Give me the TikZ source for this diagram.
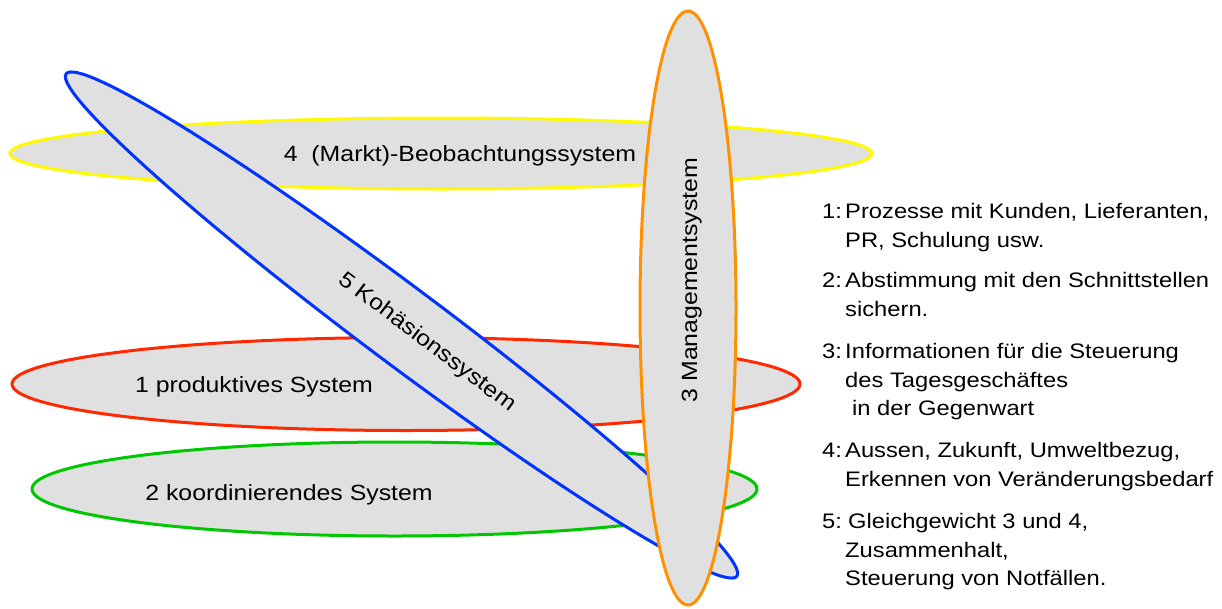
\documentclass[tikz,border=0pt]{standalone}
\usepackage{fontspec}
\setmainfont[FakeStretch=1.13]{Liberation Sans}
\usetikzlibrary{shapes.geometric}
\definecolor{cYellow}{RGB}{255,250,0}
\definecolor{cRed}{RGB}{255,40,0}
\definecolor{cGreen}{RGB}{0,200,0}
\definecolor{cBlue}{RGB}{0,51,255}
\definecolor{cOrange}{RGB}{255,145,0}
\definecolor{cFill}{RGB}{224,224,224}
\begin{document}
\begin{tikzpicture}[x=1pt,y=-1pt,
  sys/.style={ellipse, fill=cFill, line width=3pt, inner sep=0pt, outer sep=0pt},
  lab/.style={anchor=base, inner sep=0pt, font=\fontsize{22}{26}\selectfont},
  note/.style={anchor=base west, inner sep=0pt, font=\fontsize{21}{28}\selectfont}]
\useasboundingbox (0,0) rectangle (1222,608);
% 4 yellow
\node[sys, draw=cYellow, minimum width=862pt, minimum height=71pt] (s4) at (441,153.5) {};
\node[lab] (l4) at (460,161.5) {4\ \ (Markt)-Beobachtungssystem};
% 1 red
\node[sys, draw=cRed, minimum width=788pt, minimum height=93pt] (s1) at (406,384) {};
\node[lab] (l1) at (254,392.5) {1 produktives System};
% 2 green
\node[sys, draw=cGreen, minimum width=725pt, minimum height=94pt] (s2) at (394.5,489) {};
\node[lab] (l2) at (289,500) {2 koordinierendes System};
% 5 blue
\node[sys, draw=cBlue, rotate=-36.83, minimum width=838pt, minimum height=77pt] (s5) at (401.5,325) {};
\node[lab, rotate=-37] (l5) at (423.5,347) {5 Kohäsionssystem};
% 3 orange
\node[sys, draw=cOrange, minimum width=96pt, minimum height=594pt] (s3) at (688,308) {};
\node[lab, rotate=90] (l3) at (697,280) {3 Managementsystem};
% notes
\node[note] (n1) at (822,218.5) {1:};
\node[note] (t1a) at (845,218.5) {Prozesse mit Kunden, Lieferanten,};
\node[note] (t1b) at (845,247) {PR, Schulung usw.};
\node[note] (n2) at (822,287.5) {2:};
\node[note] (t2a) at (845,287.5) {Abstimmung mit den Schnittstellen};
\node[note] (t2b) at (845,316) {sichern.};
\node[note] (n3) at (822,358.5) {3:};
\node[note] (t3a) at (845,358.5) {Informationen für die Steuerung};
\node[note] (t3b) at (845,387) {des Tagesgeschäftes};
\node[note] (t3c) at (852,415.5) {in der Gegenwart};
\node[note] (n4) at (822,457.5) {4:};
\node[note] (t4a) at (845,457.5) {Aussen, Zukunft, Umweltbezug,};
\node[note] (t4b) at (845,486.5) {Erkennen von Veränderungsbedarf};
\node[note] (n5) at (822,528.5) {5:};
\node[note] (t5a) at (848,528.5) {Gleichgewicht 3 und 4,};
\node[note] (t5b) at (845,557) {Zusammenhalt,};
\node[note] (t5c) at (845,585.5) {Steuerung von Notfällen.};
\end{tikzpicture}
\end{document}
